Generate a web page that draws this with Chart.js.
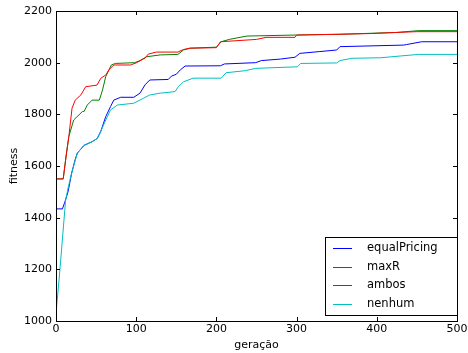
<!DOCTYPE html>
<html>
<head>
<meta charset="utf-8">
<script src="https://cdn.jsdelivr.net/npm/chart.js@4/dist/chart.umd.min.js"></script>
<style>
  html, body { margin: 0; padding: 0; background: #fff; }
  #wrap { width: 468px; height: 353px; }
</style>
</head>
<body>
<div id="wrap"><canvas id="fitnessChart" width="468" height="353"></canvas></div>
<script>
// values (generation -> best fitness)
const equalPricingGen = [0, 8, 11, 15, 19.5, 23.7, 26.6, 35, 45, 51.5, 55.7, 62, 68, 72, 80.6, 97, 104.7, 111, 117, 140, 144, 150, 155, 161, 205, 210, 249, 256, 280, 298, 304, 329, 350, 354, 433, 437, 456, 500];
const equalPricingFit = [1434, 1434, 1460, 1500, 1572, 1623, 1650, 1680, 1694, 1707, 1733, 1791, 1830, 1855, 1866, 1866, 1882, 1914, 1933, 1935, 1948, 1955, 1972, 1987, 1988, 1995, 2000, 2008, 2014, 2021, 2036, 2043, 2049, 2062, 2068, 2070, 2081, 2081];

const maxRGen = [0, 9, 13, 16, 22, 33, 35, 39, 45, 54, 58, 62, 69, 74, 98, 104.7, 113, 130, 152, 159, 167, 200, 206, 216, 238, 300, 354, 425, 452, 500];
const maxRFit = [1550, 1550, 1650, 1714, 1778, 1811, 1811, 1836, 1855, 1855, 1894, 1946, 1991, 1997, 2000, 2008, 2023, 2030, 2032, 2049, 2056, 2060, 2081, 2090, 2103, 2107, 2110, 2117, 2124, 2124];

const ambosGen = [0, 9, 12, 16, 20, 24, 31, 37, 51, 56, 62, 66, 72, 93, 100.6, 111, 115, 125, 152, 159, 167, 200, 205, 250, 262, 298, 300, 354, 395, 425, 450, 500];
const ambosFit = [1550, 1550, 1623, 1714, 1824, 1855, 1875, 1907, 1913, 1940, 1952, 1972, 1991, 1991, 2000, 2018, 2033, 2041, 2041, 2051, 2056, 2058, 2081, 2090, 2098, 2098, 2107, 2110, 2113, 2117, 2120, 2120];

const nenhumGen = [0, 4, 12, 15.4, 19.5, 26.6, 35, 45, 51.5, 55.7, 62, 68, 76.5, 97, 108.9, 117, 130, 148.4, 152.5, 159, 171, 206, 212, 236, 249, 301, 305, 350, 354, 369, 405, 430, 452, 500];
const nenhumFit = [1031, 1166, 1468, 1520, 1572, 1650, 1680, 1694, 1707, 1733, 1778, 1817, 1836, 1843, 1862, 1875, 1882, 1888, 1907, 1926, 1940, 1940, 1961, 1969, 1978, 1984, 1997, 1999, 2008, 2017, 2019, 2026, 2032, 2032];

const seriesNames = ['equalPricing', 'maxR', 'ambos', 'nenhum'];
const seriesColors = ['#0000ff', '#008000', '#ff0000', '#00bfbf'];
const xTicks = [0, 100, 200, 300, 400, 500];
const yTicks = [1000, 1200, 1400, 1600, 1800, 2000, 2200];

const FONT = 'DejaVu Sans';

function points(xs, ys) {
  return xs.map((x, i) => ({ x: x, y: ys[i] }));
}

const allGen = [equalPricingGen, maxRGen, ambosGen, nenhumGen];
const allFit = [equalPricingFit, maxRFit, ambosFit, nenhumFit];

const datasets = seriesNames.map((name, i) => ({
  label: name,
  data: points(allGen[i], allFit[i]),
  borderColor: seriesColors[i],
  backgroundColor: seriesColors[i],
  borderWidth: 1,
  pointRadius: 0,
  tension: 0,
  fill: false,
  order: seriesNames.length - i,
}));

// black frame with inward ticks on all four sides, like matplotlib classic
const frame = {
  id: 'frame',
  afterDatasetsDraw(chart) {
    const { ctx, chartArea: a, scales } = chart;
    ctx.save();
    ctx.strokeStyle = '#000';
    ctx.lineWidth = 1;
    ctx.beginPath();
    xTicks.forEach(v => {
      const px = Math.round(scales.x.getPixelForValue(v)) + 0.5;
      ctx.moveTo(px, a.bottom); ctx.lineTo(px, a.bottom - 4);
      ctx.moveTo(px, a.top); ctx.lineTo(px, a.top + 4);
    });
    yTicks.forEach(v => {
      const py = Math.round(scales.y.getPixelForValue(v)) + 0.5;
      ctx.moveTo(a.left, py); ctx.lineTo(a.left + 4, py);
      ctx.moveTo(a.right, py); ctx.lineTo(a.right - 4, py);
    });
    ctx.stroke();
    ctx.strokeRect(Math.round(a.left) + 0.5, Math.round(a.top) + 0.5,
      Math.round(a.right - a.left), Math.round(a.bottom - a.top));
    ctx.restore();
  }
};

// legend box in the lower right corner of the plot
const boxLegend = {
  id: 'boxLegend',
  afterDraw(chart) {
    const { ctx, chartArea: a } = chart;
    const w = 132, rowH = 18.7, h = 78;
    const x0 = a.right - w, y0 = a.bottom - 6 - h;
    ctx.save();
    ctx.fillStyle = '#fff';
    ctx.fillRect(x0, y0, w, h);
    ctx.strokeStyle = '#000';
    ctx.lineWidth = 1;
    ctx.strokeRect(Math.round(x0) + 0.5, Math.round(y0) + 0.5, w, h);
    ctx.font = '11.5px "' + FONT + '"';
    ctx.textBaseline = 'middle';
    seriesNames.forEach((name, i) => {
      const y = Math.round(y0 + 11 + i * rowH) + 0.5;
      ctx.strokeStyle = seriesColors[i];
      ctx.lineWidth = 1;
      ctx.beginPath();
      ctx.moveTo(x0 + 8, y);
      ctx.lineTo(x0 + 27, y);
      ctx.stroke();
      ctx.fillStyle = '#000';
      ctx.fillText(name, x0 + 42, y);
    });
    ctx.restore();
  }
};

new Chart(document.getElementById('fitnessChart'), {
  type: 'line',
  data: { datasets: datasets },
  options: {
    responsive: false,
    animation: false,
    layout: { padding: { top: 11, right: 11, left: 0, bottom: 0 } },
    plugins: {
      legend: { display: false },
      tooltip: { enabled: false },
    },
    scales: {
      x: {
        type: 'linear',
        min: 0,
        max: 500,
        afterFit: s => { s.height = 32; s.paddingLeft = 0; s.paddingRight = 0; },
        afterBuildTicks: s => { s.ticks = xTicks.map(v => ({ value: v })); },
        ticks: { color: '#000', font: { family: FONT, size: 11 }, padding: 2, maxRotation: 0, autoSkip: false, callback: v => String(v) },
        grid: { display: false, drawTicks: false },
        border: { display: false },
        title: { display: true, text: 'geração', color: '#000', font: { family: FONT, size: 11 }, padding: { top: 0, bottom: 1.5 } },
      },
      y: {
        type: 'linear',
        min: 1000,
        max: 2200,
        afterFit: s => { s.width = 56; s.paddingTop = 0; s.paddingBottom = 0; },
        afterBuildTicks: s => { s.ticks = yTicks.map(v => ({ value: v })); },
        ticks: { color: '#000', font: { family: FONT, size: 11 }, padding: 4, autoSkip: false, callback: v => String(v) },
        grid: { display: false, drawTicks: false },
        border: { display: false },
        title: { display: true, text: 'fitness', color: '#000', font: { family: FONT, size: 11 }, padding: { top: 7.4, bottom: 0 } },
      },
    },
  },
  plugins: [frame, boxLegend],
});
</script>
</body>
</html>
